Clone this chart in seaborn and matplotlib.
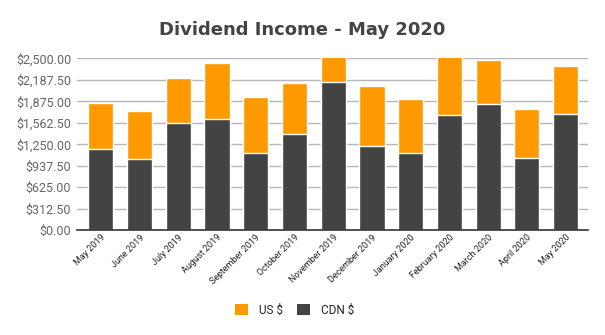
import matplotlib
matplotlib.use("Agg")
import matplotlib.pyplot as plt
from matplotlib.patches import Patch
from matplotlib.ticker import FixedLocator
import seaborn as sns
import pandas as pd

months = ["May 2019", "June 2019", "July 2019", "August 2019", "September 2019",
          "October 2019", "November 2019", "December 2019", "January 2020",
          "February 2020", "March 2020", "April 2020", "May 2020"]
cdn = [1182, 1036, 1560, 1618, 1124, 1395, 2151, 1221, 1119, 1672, 1831, 1047, 1686]
us = [668, 698, 649, 809, 809, 742, 520, 872, 785, 880, 640, 712, 698]
y_ticks = [0, 312.5, 625, 937.5, 1250, 1562.5, 1875, 2187.5, 2500]

ORANGE = "#ff9900"
DARK = "#434343"

sns.set_theme(style="white")
plt.rcParams["font.family"] = ["Roboto", "DejaVu Sans"]

df = pd.DataFrame({"month": months, "cdn": cdn, "us": us})
df["total"] = df["cdn"] + df["us"]

fig = plt.figure(figsize=(6.05, 3.35), dpi=100)
ax = fig.add_axes([0.127, 0.313, 0.845, 0.513])

# stacked bars: the full total in orange, the CDN share drawn over it
sns.barplot(data=df, x="month", y="total", color=ORANGE, width=0.65,
            saturation=1, ax=ax, zorder=3)
sns.barplot(data=df, x="month", y="cdn", color=DARK, width=0.65,
            saturation=1, ax=ax, zorder=3)

ax.set_ylim(0, 2500)
ax.set_xlim(-0.62, len(months) - 0.42)
ax.yaxis.set_major_locator(FixedLocator(y_ticks))
ax.set_yticklabels([f"${v:,.2f}" for v in y_ticks], color="#666666", fontsize=9)
ax.yaxis.grid(True, color="#b7b7b7", linewidth=1, zorder=0)
ax.set_axisbelow(True)
ax.tick_params(axis="y", length=0, pad=4)
ax.tick_params(axis="x", length=0, pad=2)
ax.set_xticks(range(len(months)))
ax.set_xticklabels(months, rotation=45, ha="right", rotation_mode="anchor",
                   fontsize=6.5, color="#222222")
ax.set_xlabel("")
ax.set_ylabel("")
for side in ["top", "right", "left"]:
    ax.spines[side].set_visible(False)
ax.spines["bottom"].set_color("#333333")
ax.spines["bottom"].set_linewidth(1.2)
ax.spines["bottom"].set_zorder(4)

fig.text(0.5, 0.91, "Dividend Income - May 2020", ha="center", va="center",
         fontsize=13, fontweight="bold", color="#444444",
         family=["DejaVu Sans"])

handles = [Patch(facecolor=ORANGE, edgecolor="none", label="US $"),
           Patch(facecolor=DARK, edgecolor="none", label="CDN $")]
fig.legend(handles=handles, loc="center", bbox_to_anchor=(0.487, 0.075), ncol=2,
           frameon=False, fontsize=8.5, handlelength=1.1, handleheight=1.1,
           handletextpad=0.9, columnspacing=1.2, labelcolor="#222222")

fig.savefig("out.png", dpi=100)
